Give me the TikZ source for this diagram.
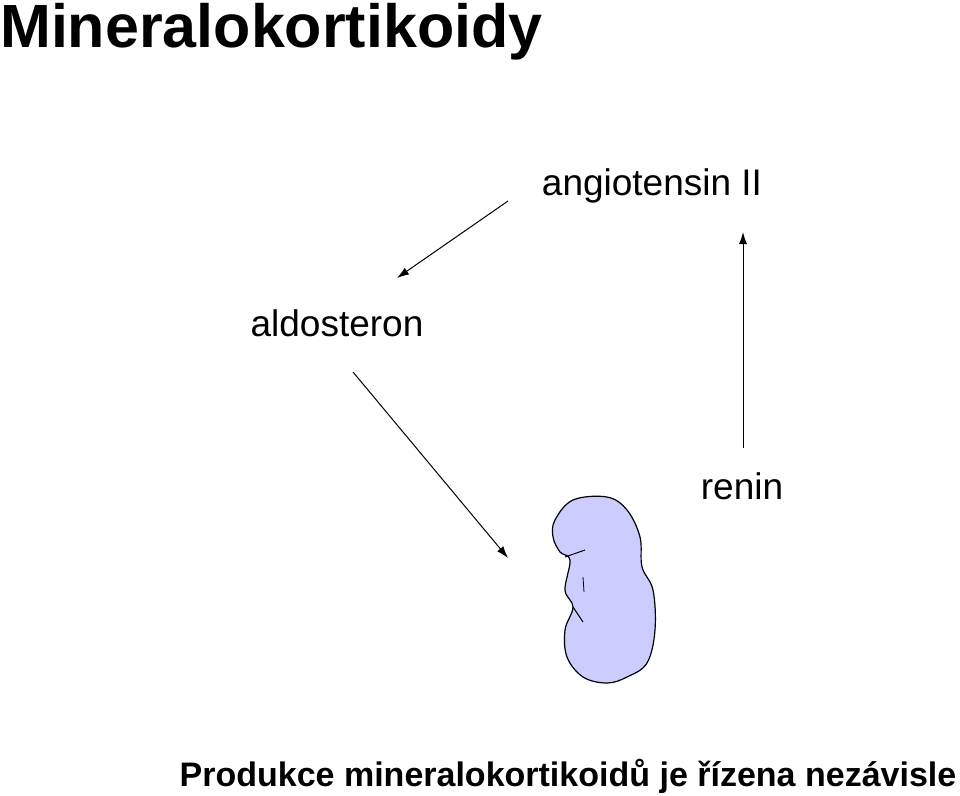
\documentclass[tikz,border=0pt]{standalone}
\usepackage{fontspec}
\setmainfont{Liberation Sans}
\usetikzlibrary{arrows.meta}
\begin{document}
\begin{tikzpicture}[x=1pt,y=-1pt,
  lbl/.style={anchor=base,font=\fontsize{37}{40}\selectfont,inner sep=0},
  arr/.style={-{Latex[length=12pt,width=8pt]},line width=1pt}]
\useasboundingbox (0,0) rectangle (960,795);
\node[anchor=base west,inner sep=0,font=\bfseries\fontsize{61}{64}\selectfont] (title) at (0,47) {Mineralokortikoidy};
\node[lbl] (ang) at (652,195) {angiotensin II};
\node[lbl] (ald) at (337,336) {aldosteron};
\node[lbl] (ren) at (742,499) {renin};
\node[anchor=base,inner sep=0,font=\bfseries\fontsize{34}{38}\selectfont] (foot) at (568,786) {Produkce mineralokortikoidů je řízena nezávisle};
\coordinate (a1) at (508,201); \coordinate (a2) at (397,278);
\coordinate (b1) at (353,372); \coordinate (b2) at (508,558);
\coordinate (c1) at (743,448); \coordinate (c2) at (743,232);
\draw[arr] (a1) -- (a2);
\draw[arr] (b1) -- (b2);
\draw[arr] (c1) -- (c2);
\draw[line width=1.2pt,fill={rgb,255:red,204;green,204;blue,255}] plot[smooth cycle,tension=0.6] coordinates {
(555,520) (573,500) (607,497) (627,510) (640,537) (642,567) (653,590) (655,630) (647,663) (627,677) (607,683) (583,677) (567,657) (565,630) (573,607) (565,590) (570,560) (560,552) (553,537)};
\draw[line width=1pt] (565,557) -- (585,550);
\draw[line width=0.8pt] (583,577) -- (584,592);
\draw[line width=1pt] (573,607) -- (583,622);
\end{tikzpicture}
\end{document}
